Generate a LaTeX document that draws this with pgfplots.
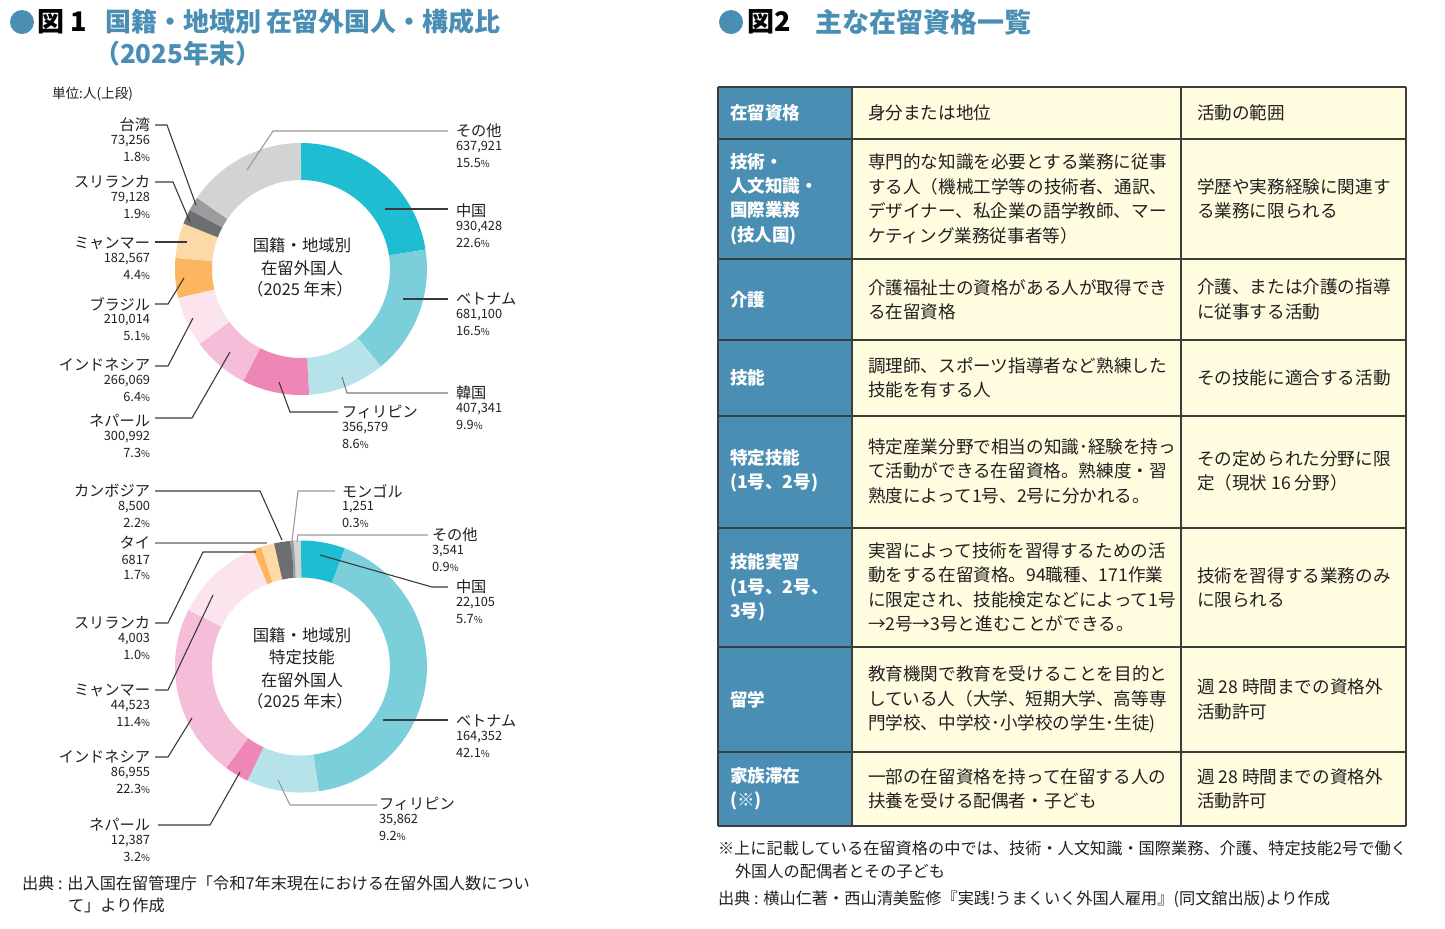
\documentclass[border=0pt]{standalone}
\usepackage{pgfplots}
\pgfplotsset{compat=1.18}
\usepackage{pgfplotstable}
\usepackage{fontspec}
\setmainfont{Noto Sans CJK JP}

\definecolor{cChina}{HTML}{1FBDD2}
\definecolor{cViet}{HTML}{7BCFDB}
\definecolor{cKorea}{HTML}{B6E2EA}
\definecolor{cPhil}{HTML}{EE87B6}
\definecolor{cNepal}{HTML}{F5BDD8}
\definecolor{cIndo}{HTML}{FCE4EF}
\definecolor{cBrazil}{HTML}{FBB65F}
\definecolor{cMyan}{HTML}{FED9A8}
\definecolor{cSri}{HTML}{6D6E71}
\definecolor{cTaiwan}{HTML}{9B9C9E}
\definecolor{cOther}{HTML}{D1D3D4}
\definecolor{tblue}{HTML}{4A8FB3}
\definecolor{cream}{HTML}{FFFCE0}
\definecolor{txt}{HTML}{231F20}
\definecolor{ldark}{HTML}{3A3A3A}
\definecolor{lgray}{HTML}{9A9A9A}
\definecolor{grid}{HTML}{3D3D3D}

% Figure 1 (top): residents by nationality, end of 2025
\pgfplotstableread[col sep=comma]{
country,value,col
China,930428,cChina
Vietnam,681100,cViet
Korea,407341,cKorea
Philippines,356579,cPhil
Nepal,300992,cNepal
Indonesia,266069,cIndo
Brazil,210014,cBrazil
Myanmar,182567,cMyan
SriLanka,79128,cSri
Taiwan,73256,cTaiwan
Other,637921,cOther
}\tabA

% Figure 1 (bottom): specified skilled workers by nationality
\pgfplotstableread[col sep=comma]{
country,value,col
China,22105,cChina
Vietnam,164352,cViet
Philippines,35862,cKorea
Nepal,12387,cPhil
Indonesia,86955,cNepal
Myanmar,44523,cIndo
SriLanka,4003,cBrazil
Thailand,6817,cMyan
Cambodia,8500,cSri
Mongolia,1251,cTaiwan
Other,3541,cOther
}\tabB

\newcommand\prepdonut[2]{%
  \xdef\dtotal{0}%
  \pgfplotsforeachungrouped \i in {1,...,11}{%
    \pgfmathtruncatemacro\rowidx{\i-1}%
    \pgfplotstablegetelem{\rowidx}{value}\of{#1}%
    \xdef\dtotal{\fpeval{\dtotal+\pgfplotsretval}}}%
  \xdef\dcum{0}%
  \pgfplotsforeachungrouped \i in {1,...,11}{%
    \pgfmathtruncatemacro\rowidx{\i-1}%
    \pgfplotstablegetelem{\rowidx}{value}\of{#1}%
    \edef\curv{\pgfplotsretval}%
    \expandafter\xdef\csname #2s\i\endcsname{\fpeval{round(90-360*\dcum/\dtotal,4)}}%
    \xdef\dcum{\fpeval{\dcum+\curv}}%
    \expandafter\xdef\csname #2e\i\endcsname{\fpeval{round(90-360*\dcum/\dtotal,4)}}%
    \pgfplotstablegetelem{\rowidx}{col}\of{#1}%
    \expandafter\xdef\csname #2c\i\endcsname{\pgfplotsretval}%
  }}
\prepdonut{\tabA}{A}
\prepdonut{\tabB}{B}

\pgfplotsset{donut/.style={anchor=origin, width=126pt, height=126pt, scale only axis,
  xmin=-1, xmax=1, ymin=-1, ymax=1, hide axis, clip=false}}

\newcommand\fname{\fontsize{7.6pt}{9pt}\selectfont}
\newcommand\fnum{\fontsize{6.4pt}{8pt}\selectfont}
\newcommand\fctr{\fontsize{8.2pt}{10pt}\selectfont}
\newcommand\ftbl{\fontsize{8.8pt}{12.2pt}\selectfont}
\newcommand\ffoot{\fontsize{8.1pt}{10pt}\selectfont}
\newcommand\pct{{\fontsize{4.8pt}{5pt}\selectfont\%}}
% anchor, x, y, name, number, percent
\newcommand\Lab[6]{%
  \node[anchor=#1,font=\fname] at (#2,#3) {#4};
  \node[anchor=#1,font=\fnum] at (#2,#3+16.5) {#5};
  \node[anchor=#1,font=\fnum] at (#2,#3+32) {#6\pct};}

\begin{document}
\begin{tikzpicture}
\begin{scope}[x=0.5pt,y=-0.5pt]
\path[use as bounding box] (0,0) rectangle (1445,928);
\end{scope}

\begin{axis}[donut, at={(150.5pt,-134.5pt)}]
\pgfplotsforeachungrouped \i in {1,...,11}{%
  \edef\doplot{\noexpand\addplot[draw=\csname Ac\i\endcsname, line width=18.5pt,
    domain=\csname Ae\i\endcsname:\csname As\i\endcsname, samples=90]
    ({0.8532*cos(x)},{0.8532*sin(x)});}%
  \doplot}
\end{axis}

\begin{axis}[donut, at={(150.5pt,-333.25pt)}]
\pgfplotsforeachungrouped \i in {1,...,11}{%
  \edef\doplot{\noexpand\addplot[draw=\csname Bc\i\endcsname, line width=18.5pt,
    domain=\csname Be\i\endcsname:\csname Bs\i\endcsname, samples=90]
    ({0.8532*cos(x)},{0.8532*sin(x)});}%
  \doplot}
\end{axis}

\begin{scope}[x=0.5pt,y=-0.5pt, every node/.style={inner sep=0pt,outer sep=0pt,text=txt}]
% ---------- titles ----------
\fill[tblue] (22,22) circle[radius=6pt];
\node[anchor=west,font=\fontsize{13.5pt}{15pt}\selectfont\bfseries,text=black] at (37,22) {図 1};
\node[anchor=west,font=\fontsize{13pt}{15pt}\selectfont\bfseries,text=tblue] at (105,22) {国籍・地域別 在留外国人・構成比};
\node[anchor=west,font=\fontsize{13pt}{15pt}\selectfont\bfseries,text=tblue] at (94,54) {（2025年末）};
\node[anchor=west,font=\fontsize{6.8pt}{8pt}\selectfont] at (52,94) {単位:人(上段)};

\fill[tblue] (731,22) circle[radius=6pt];
\node[anchor=west,font=\fontsize{13.5pt}{15pt}\selectfont\bfseries,text=black] at (747,22) {図2};
\node[anchor=west,font=\fontsize{13.5pt}{15pt}\selectfont\bfseries,text=tblue] at (815,22) {主な在留資格一覧};

% ---------- donut 1 ----------
\node[font=\fctr] at (302,245) {国籍・地域別};
\node[font=\fctr] at (302,268) {在留外国人};
\node[font=\fctr] at (300,289) {（2025 年末）};

\draw[lgray,line width=0.55pt] (448,131)--(273,131)--(247,170);
\draw[ldark,line width=0.55pt] (448,209)--(385,209);
\draw[ldark,line width=0.55pt] (448,299)--(403,299);
\draw[lgray!80!black,line width=0.55pt] (448,393)--(347,393)--(342,377);
\draw[ldark,line width=0.55pt] (338,412)--(290,412)--(279,382);
\draw[ldark,line width=0.55pt] (155,125)--(167,125)--(196,205);
\draw[ldark,line width=0.55pt] (155,182)--(173,182)--(190,222);
\draw[ldark,line width=0.55pt] (155,242)--(187,242);
\draw[ldark,line width=0.55pt] (155,304)--(168,304)--(184,278);
\draw[ldark,line width=0.55pt] (155,366)--(168,366)--(193,318);
\draw[ldark,line width=0.55pt] (155,418)--(192,418)--(230,352);

\Lab{west}{456}{131}{その他}{637,921}{15.5}
\Lab{west}{456}{211}{中国}{930,428}{22.6}
\Lab{west}{456}{299}{ベトナム}{681,100}{16.5}
\Lab{west}{456}{393}{韓国}{407,341}{9.9}
\Lab{west}{342}{412}{フィリピン}{356,579}{8.6}
\Lab{east}{150}{125}{台湾}{73,256}{1.8}
\Lab{east}{150}{182}{スリランカ}{79,128}{1.9}
\Lab{east}{150}{243}{ミャンマー}{182,567}{4.4}
\Lab{east}{150}{304}{ブラジル}{210,014}{5.1}
\Lab{east}{150}{365}{インドネシア}{266,069}{6.4}
\Lab{east}{150}{421}{ネパール}{300,992}{7.3}

% ---------- donut 2 ----------
\node[font=\fctr] at (302,635) {国籍・地域別};
\node[font=\fctr] at (302,657) {特定技能};
\node[font=\fctr] at (302,680) {在留外国人};
\node[font=\fctr] at (300,701) {（2025 年末）};

\draw[ldark,line width=0.55pt] (155,491)--(260,491)--(282,540);
\draw[lgray,line width=0.55pt] (335,491)--(298,491)--(292,541);
\draw[lgray,line width=0.55pt] (428,535)--(298,535)--(297,542);
\draw[ldark,line width=0.55pt] (448,587)--(432,587)--(320,555);
\draw[ldark,line width=0.55pt] (448,720)--(383,720);
\draw[lgray,line width=0.55pt] (377,805)--(290,805)--(278,780);
\draw[lgray,line width=0.55pt] (155,543)--(267,543);
\draw[ldark,line width=0.55pt] (155,623)--(168,623)--(203,552)--(256,552);
\draw[ldark,line width=0.55pt] (155,690)--(168,690)--(213,595);
\draw[ldark,line width=0.55pt] (155,757)--(168,757)--(192,718);
\draw[ldark,line width=0.55pt] (158,825)--(210,825)--(240,772);

\Lab{west}{342}{491}{モンゴル}{1,251}{0.3}
\Lab{west}{432}{535}{その他}{3,541}{0.9}
\Lab{west}{456}{587}{中国}{22,105}{5.7}
\Lab{west}{456}{721}{ベトナム}{164,352}{42.1}
\Lab{west}{379}{804}{フィリピン}{35,862}{9.2}
\Lab{east}{150}{491}{カンボジア}{8,500}{2.2}
\Lab{east}{150}{543}{タイ}{6817}{1.7}
\Lab{east}{150}{623}{スリランカ}{4,003}{1.0}
\Lab{east}{150}{690}{ミャンマー}{44,523}{11.4}
\Lab{east}{150}{757}{インドネシア}{86,955}{22.3}
\Lab{east}{150}{825}{ネパール}{12,387}{3.2}

\node[anchor=west,font=\ffoot] at (22,883) {出典 : 出入国在留管理庁「令和7年末現在における在留外国人数につい};
\node[anchor=west,font=\ffoot] at (68,905) {て」より作成};

% ---------- table ----------
\fill[tblue] (718,87) rectangle (852,826);
\fill[cream] (852,87) rectangle (1406,826);
\foreach \yy in {87,139,259,340,416,528,647,752,826}
  \draw[grid,line width=0.7pt] (718,\yy) -- (1406,\yy);
\foreach \xx in {718,852,1181,1406}
  \draw[grid,line width=0.7pt] (\xx,87) -- (\xx,826);

\tikzset{hc/.style={anchor=west,font=\ftbl\bfseries,text=white,align=left},
         tc/.style={anchor=west,font=\ftbl,align=left}}
% header
\node[hc] at (730,113) {在留資格};
\node[tc] at (868,113) {身分または地位};
\node[tc] at (1197,113) {活動の範囲};
% row 2
\node[hc] at (730,199) {技術・\\人文知識・\\国際業務\\(技人国)};
\node[tc] at (868,199) {専門的な知識を必要とする業務に従事\\する人（機械工学等の技術者、通訳、\\デザイナー、私企業の語学教師、マー\\ケティング業務従事者等）};
\node[tc] at (1197,199) {学歴や実務経験に関連す\\る業務に限られる};
% row 3
\node[hc] at (730,299.5) {介護};
\node[tc] at (868,299.5) {介護福祉士の資格がある人が取得でき\\る在留資格};
\node[tc] at (1197,299.5) {介護、または介護の指導\\に従事する活動};
% row 4
\node[hc] at (730,378) {技能};
\node[tc] at (868,378) {調理師、スポーツ指導者など熟練した\\技能を有する人};
\node[tc] at (1197,378) {その技能に適合する活動};
% row 5
\node[hc] at (730,471) {特定技能\\(1号、2号)};
\node[tc] at (868,471) {特定産業分野で相当の知識･経験を持っ\\て活動ができる在留資格。熟練度・習\\熟度によって1号、2号に分かれる。};
\node[tc] at (1197,471) {その定められた分野に限\\定（現状 16 分野）};
% row 6
\node[hc] at (730,587.5) {技能実習\\(1号、2号、\\3号)};
\node[tc] at (868,587.5) {実習によって技術を習得するための活\\動をする在留資格。94職種、171作業\\に限定され、技能検定などによって1号\\→2号→3号と進むことができる。};
\node[tc] at (1197,587.5) {技術を習得する業務のみ\\に限られる};
% row 7
\node[hc] at (730,699.5) {留学};
\node[tc] at (868,699.5) {教育機関で教育を受けることを目的と\\している人（大学、短期大学、高等専\\門学校、中学校･小学校の学生･生徒)};
\node[tc] at (1197,699.5) {週 28 時間までの資格外\\活動許可};
% row 8
\node[hc] at (730,789) {家族滞在\\(※)};
\node[tc] at (868,789) {一部の在留資格を持って在留する人の\\扶養を受ける配偶者・子ども};
\node[tc] at (1197,789) {週 28 時間までの資格外\\活動許可};

\node[anchor=west,font=\ffoot] at (718,848) {※上に記載している在留資格の中では、技術・人文知識・国際業務、介護、特定技能2号で働く};
\node[anchor=west,font=\ffoot] at (735,871) {外国人の配偶者とその子ども};
\node[anchor=west,font=\ffoot] at (718,899) {出典 : 横山仁著・西山清美監修『実践!うまくいく外国人雇用』(同文舘出版)より作成};
\end{scope}
\end{tikzpicture}
\end{document}
